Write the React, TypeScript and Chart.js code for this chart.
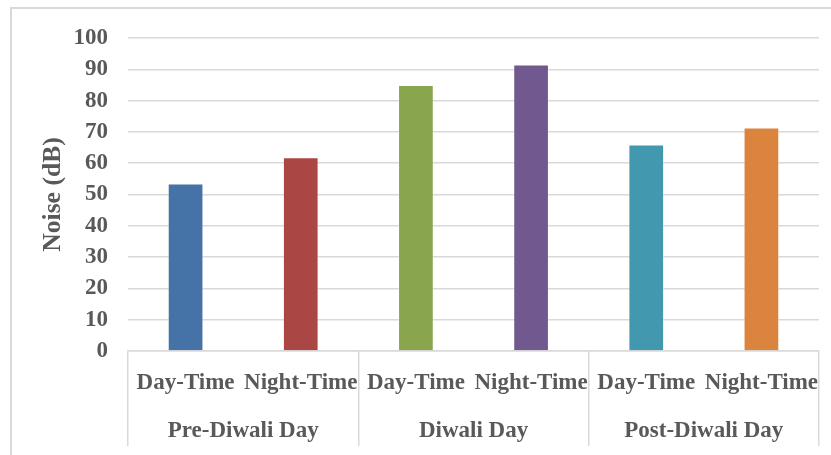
import React, { useEffect, useRef } from "react";
import { Chart, registerables } from "chart.js";

Chart.register(...registerables);

const subLabels = ["Day-Time", "Night-Time", "Day-Time", "Night-Time", "Day-Time", "Night-Time"];
const groupLabels = ["Pre-Diwali Day", "Diwali Day", "Post-Diwali Day"];
const noiseValues = [53.5, 61.9, 85.0, 91.5, 66.0, 71.4];
const barColors = ["#4572A7", "#AA4643", "#89A54E", "#71588F", "#4198AF", "#DB843D"];
const yTitle = "Noise (dB)";

const FONT = "'Liberation Serif', 'Times New Roman', serif";
const TEXT = "#595959";
const GRID = "#d9d9d9";

export default function App() {
  const ref = useRef<HTMLCanvasElement>(null);

  useEffect(() => {
    document.body.style.margin = "0";
    const ctx = ref.current!.getContext("2d")!;
    const chart = new Chart(ctx, {
      type: "bar",
      data: {
        labels: subLabels,
        datasets: [
          {
            data: noiseValues,
            backgroundColor: barColors,
            borderColor: "rgba(255,255,255,0.35)",
            borderWidth: 1,
            barPercentage: 0.31,
            categoryPercentage: 1,
            xAxisID: "x",
          },
        ],
      },
      options: {
        animation: false,
        responsive: false,
        maintainAspectRatio: false,
        layout: { padding: { left: 34, right: 12, top: 38, bottom: 0 } },
        plugins: { legend: { display: false }, tooltip: { enabled: false } },
        scales: {
          y: {
            min: 0,
            max: 100,
            ticks: {
              stepSize: 10,
              color: TEXT,
              padding: 20,
              font: { family: FONT, size: 23, weight: "bold" },
            },
            grid: { color: GRID, lineWidth: 1.5, drawTicks: false },
            border: { display: false },
            title: {
              display: true,
              text: yTitle,
              color: TEXT,
              padding: { top: 4, bottom: 4 },
              font: { family: FONT, size: 25.6, weight: "bold" },
            },
            afterFit: (s: any) => {
              s.width = 94;
            },
          },
          x: {
            type: "category",
            position: "bottom",
            weight: 0,
            offset: true,
            grid: {
              offset: true,
              drawOnChartArea: false,
              drawTicks: true,
              tickLength: 95,
              lineWidth: 1.5,
              color: (c: any) =>
                c.index === undefined || c.index % 2 === 0 ? GRID : "rgba(0,0,0,0)",
            },
            border: { display: true, color: GRID, width: 1.5 },
            ticks: {
              color: TEXT,
              padding: -77,
              maxRotation: 0,
              autoSkip: false,
              font: { family: FONT, size: 23, weight: "bold" },
            },
            afterFit: (s: any) => {
              s.height = 60;
            },
          },
          x2: {
            type: "category",
            position: "bottom",
            weight: 1,
            offset: true,
            labels: groupLabels,
            grid: { display: false, drawTicks: false },
            border: { display: false },
            ticks: {
              color: TEXT,
              padding: 6,
              maxRotation: 0,
              autoSkip: false,
              font: { family: FONT, size: 23, weight: "bold" },
            },
            afterFit: (s: any) => {
              s.height = 44;
            },
          },
        },
      },
    });
    return () => chart.destroy();
  }, []);

  return (
    <div style={{ position: "relative", width: 831, height: 455, background: "#fff", overflow: "hidden" }}>
      <div
        style={{
          position: "absolute",
          left: 10,
          top: 7,
          width: 900,
          height: 500,
          borderLeft: "2px solid #d9d9d9",
          borderTop: "2px solid #d9d9d9",
          boxSizing: "border-box",
        }}
      />
      <canvas
        ref={ref}
        width={831}
        height={455}
        style={{ position: "absolute", left: 0, top: 0, width: 831, height: 455 }}
      />
    </div>
  );
}
